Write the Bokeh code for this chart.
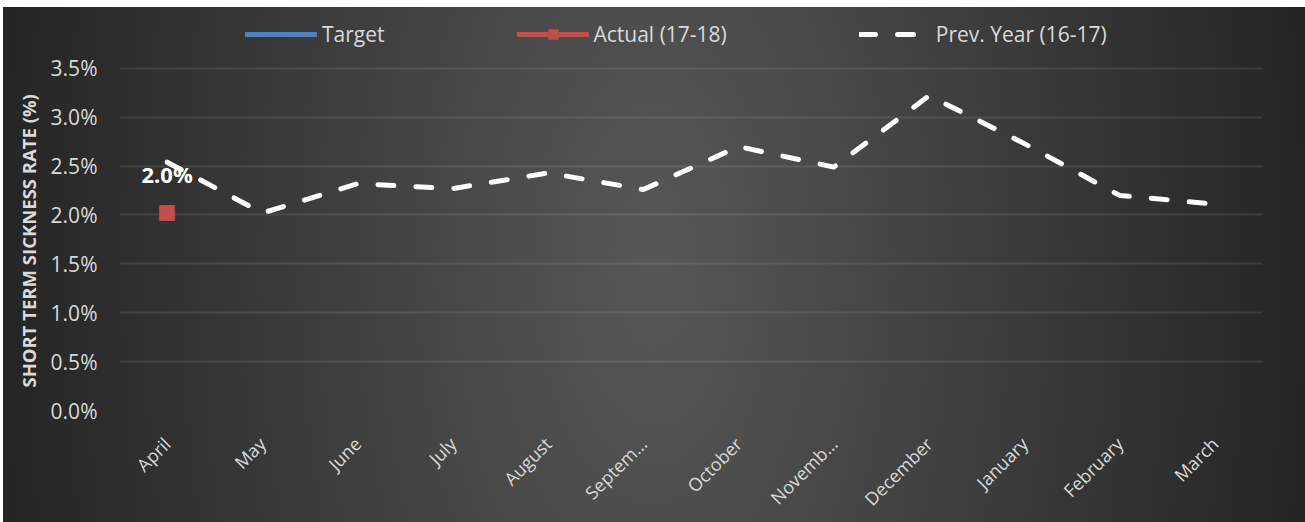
import math
from bokeh.plotting import figure
from bokeh.models import (ColumnDataSource, FactorRange, Range1d, FixedTicker,
                          NumeralTickFormatter, Legend, LegendItem, Title)
from bokeh.core.properties import value
from bokeh.embed import file_html
from bokeh.resources import INLINE

NA = float("nan")

# Monthly short term sickness rate (fractions, shown as %)
months = ["April", "May", "June", "July", "August", "Septem…", "October",
          "Novemb…", "December", "January", "February", "March"]
prev_year = [0.0254, 0.0202, 0.0232, 0.0227, 0.0243, 0.0226, 0.0270,
             0.0249, 0.0322, 0.0273, 0.0220, 0.0211]
actual_months = ["April"]
actual = [0.0202]
# no target values have been entered yet
target = [NA, NA, NA, NA, NA, NA, NA, NA, NA, NA, NA, NA]
y_ticks = [0.0, 0.005, 0.010, 0.015, 0.020, 0.025, 0.030, 0.035]

FONT = "Open Sans"
TEXT = "#d9d9d9"

# plot area runs to the top edge so the legend can sit inside it;
# the value axis keeps 3.5% at 343 px above the baseline
FRAME_H = 411
Y_TOP = 0.035 * FRAME_H / 343

p = figure(x_range=FactorRange(*months, range_padding=0),
           y_range=Range1d(0, Y_TOP),
           width=1305, height=522, output_backend="svg", toolbar_location=None,
           min_border_left=119, min_border_right=43,
           min_border_top=0, min_border_bottom=111)

# dark panel with a soft light centre
p.background_fill_alpha = 0
p.border_fill_alpha = 0
p.outline_line_color = None
p.styles = {
    "background": "radial-gradient(ellipse 50% 250% at 50% 50%, #575757 0%, #252525 100%) "
                  "3px 7px / 1302px 515px no-repeat, #ffffff"
}

# grid
p.xgrid.grid_line_color = None
p.ygrid.grid_line_color = "#ffffff"
p.ygrid.grid_line_alpha = 0.09
p.ygrid.grid_line_width = 2

# y axis
p.yaxis.ticker = FixedTicker(ticks=y_ticks)
p.yaxis.formatter = NumeralTickFormatter(format="0.0%")
p.yaxis.axis_line_color = None
p.yaxis.major_tick_line_color = None
p.yaxis.minor_tick_line_color = None
p.yaxis.major_tick_out = 0
p.yaxis.major_tick_in = 0
p.yaxis.major_label_standoff = 22
p.yaxis.major_label_text_font = FONT
p.yaxis.major_label_text_font_size = "21px"
p.yaxis.major_label_text_color = TEXT

p.add_layout(Title(text="SHORT TERM SICKNESS RATE (%)", align="left",
                   offset=23, standoff=14, text_font=FONT, text_font_size="18.5px",
                   text_font_style="bold", text_color=TEXT), "left")

# x axis
p.xaxis.axis_line_color = None
p.xaxis.major_tick_line_color = None
p.xaxis.minor_tick_line_color = None
p.xaxis.major_tick_out = 0
p.xaxis.major_tick_in = 0
p.xaxis.major_label_orientation = math.pi / 4
p.xaxis.major_label_standoff = 30
p.xaxis.major_label_text_font = FONT
p.xaxis.major_label_text_font_size = "18px"
p.xaxis.major_label_text_color = TEXT

prev_src = ColumnDataSource(dict(x=months, y=prev_year))
act_src = ColumnDataSource(dict(x=actual_months, y=actual,
                                label=[f"{v:.1%}" for v in actual]))
tgt_src = ColumnDataSource(dict(x=months, y=target))

r_target = p.line("x", "y", source=tgt_src, line_color="#4f81bd",
                  line_width=5, line_cap="round")
r_prev = p.line("x", "y", source=prev_src, line_color="#ffffff", line_width=5,
                line_cap="round", line_join="round", line_dash="16 22")
r_act_line = p.line("x", "y", source=act_src, line_color="#c0504d",
                    line_width=5, line_cap="round")
r_act_pts = p.scatter("x", "y", source=act_src, marker="square", size=15,
                      fill_color="#c0504d", line_color="#b84a47", line_width=1)

p.text("x", "y", text="label", source=act_src, text_font=value(FONT),
       text_font_size="22px", text_font_style="bold", text_color="#ffffff",
       text_align="center", text_baseline="alphabetic", y_offset=-39)

legend = Legend(items=[
    LegendItem(label="Target", renderers=[r_target]),
    LegendItem(label="Actual (17-18)", renderers=[r_act_line, r_act_pts]),
    LegendItem(label="Prev. Year (16-17)", renderers=[r_prev]),
], orientation="horizontal", location=(126, 362), spacing=132,
    glyph_width=72, glyph_height=24, label_standoff=5, padding=0, margin=0,
    border_line_alpha=0, background_fill_alpha=0,
    label_text_font=FONT, label_text_font_size="21px",
    label_text_color=TEXT)
p.add_layout(legend, "center")

open("out.html", "w").write(file_html(p, INLINE))
